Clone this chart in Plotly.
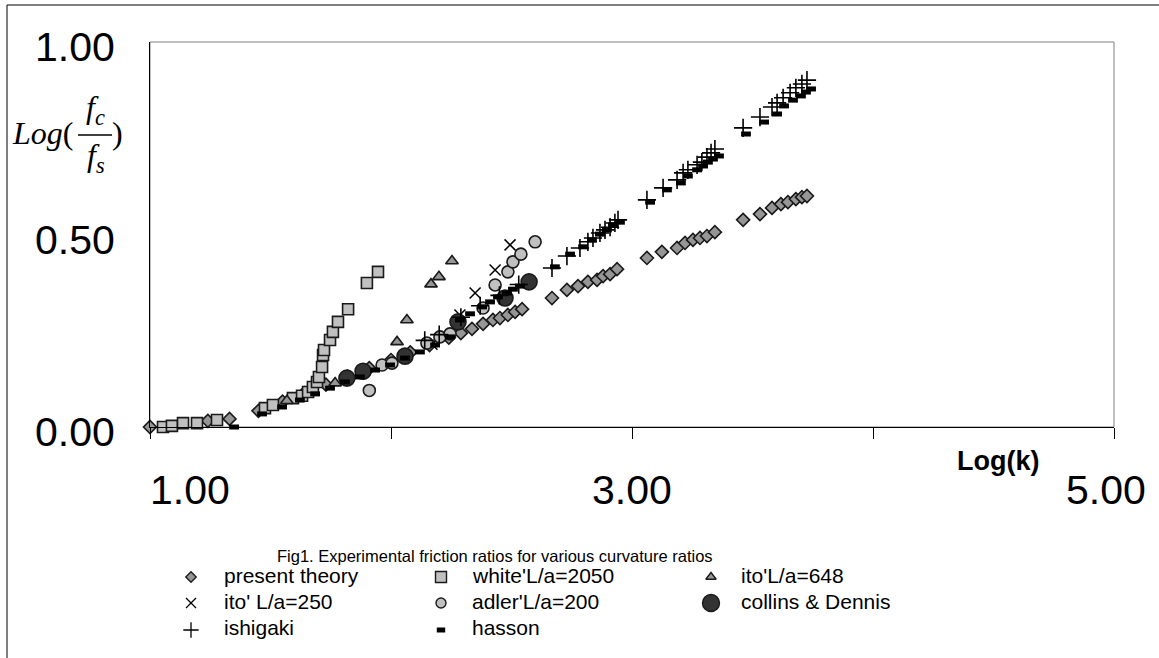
import plotly.graph_objects as go

W, H = 1159, 658

# ---------------- data ----------------
theory_x = [1.00, 1.24, 1.33, 1.45, 1.55, 1.64, 1.73, 1.82, 1.91, 2.00, 2.08, 2.16, 2.24, 2.29,
            2.336, 2.382, 2.423, 2.452, 2.485, 2.515, 2.544, 2.668, 2.730, 2.776, 2.817, 2.855,
            2.880, 2.909, 2.938, 3.062, 3.124, 3.187, 3.220, 3.253, 3.282, 3.311, 3.344, 3.461,
            3.531, 3.581, 3.618, 3.647, 3.680, 3.705, 3.726]
theory_y = [0.000, 0.016, 0.021, 0.042, 0.066, 0.088, 0.110, 0.131, 0.153, 0.174, 0.194, 0.213,
            0.232, 0.244, 0.255, 0.268, 0.278, 0.283, 0.291, 0.299, 0.306, 0.335, 0.356, 0.366,
            0.377, 0.382, 0.392, 0.397, 0.410, 0.439, 0.455, 0.465, 0.478, 0.486, 0.491, 0.496,
            0.506, 0.538, 0.553, 0.569, 0.579, 0.584, 0.592, 0.597, 0.600]

white_x = [1.054, 1.091, 1.137, 1.195, 1.278, 1.477, 1.510, 1.593, 1.631, 1.656, 1.676, 1.693,
           1.701, 1.714, 1.718, 1.722, 1.747, 1.759, 1.780, 1.822, 1.900, 1.946]
white_y = [0.000, 0.003, 0.010, 0.010, 0.018, 0.049, 0.057, 0.075, 0.081, 0.091, 0.104, 0.117,
           0.130, 0.156, 0.187, 0.200, 0.226, 0.247, 0.273, 0.306, 0.374, 0.403]

ito648_x = [1.568, 1.768, 2.025, 2.066, 2.166, 2.199, 2.253]
ito648_y = [0.068, 0.114, 0.221, 0.278, 0.371, 0.390, 0.431]

ito250_x = [2.170, 2.286, 2.349, 2.432, 2.494]
ito250_y = [0.215, 0.291, 0.348, 0.408, 0.473]

adler_x = [1.910, 1.963, 2.004, 2.149, 2.203, 2.245, 2.382, 2.432, 2.485, 2.506, 2.539, 2.598]
adler_y = [0.095, 0.161, 0.166, 0.218, 0.234, 0.242, 0.309, 0.369, 0.403, 0.429, 0.449, 0.481]

collins_x = [1.817, 1.884, 2.058, 2.278, 2.473, 2.573]
collins_y = [0.127, 0.145, 0.184, 0.273, 0.335, 0.377]

ishigaki_x = [2.140, 2.200, 2.290, 2.370, 2.450, 2.530, 2.668, 2.730, 2.784, 2.817, 2.838, 2.867,
              2.888, 2.909, 2.929, 2.942, 3.062, 3.129, 3.187, 3.212, 3.232, 3.270, 3.290, 3.311,
              3.328, 3.344, 3.461, 3.531, 3.581, 3.602, 3.627, 3.656, 3.680, 3.705, 3.726]
ishigaki_y = [0.225, 0.240, 0.285, 0.315, 0.342, 0.370, 0.413, 0.444, 0.465, 0.481, 0.491, 0.504,
              0.512, 0.519, 0.530, 0.538, 0.590, 0.621, 0.642, 0.660, 0.668, 0.681, 0.688, 0.701,
              0.712, 0.722, 0.777, 0.805, 0.831, 0.842, 0.855, 0.868, 0.881, 0.891, 0.901]

hasson_x = [1.349, 1.465, 1.548, 1.622, 1.685, 1.747, 1.809, 1.871, 1.934, 1.996, 2.058, 2.120,
            2.183, 2.245, 2.286, 2.328, 2.378, 2.411, 2.444, 2.481, 2.506, 2.535, 2.680, 2.743,
            2.797, 2.834, 2.867, 2.896, 2.921, 2.950, 3.075, 3.145, 3.203, 3.232, 3.270, 3.295,
            3.315, 3.336, 3.361, 3.473, 3.548, 3.602, 3.631, 3.668, 3.701, 3.722, 3.743]
hasson_y = [0.000, 0.034, 0.052, 0.070, 0.086, 0.101, 0.117, 0.130, 0.148, 0.161, 0.179, 0.195,
            0.213, 0.234, 0.278, 0.294, 0.312, 0.325, 0.338, 0.348, 0.358, 0.366, 0.416, 0.449,
            0.468, 0.486, 0.501, 0.512, 0.525, 0.532, 0.584, 0.616, 0.634, 0.652, 0.668, 0.678,
            0.688, 0.696, 0.704, 0.761, 0.792, 0.813, 0.834, 0.849, 0.860, 0.870, 0.878]

series_names = ["present theory", "white'L/a=2050", "ito'L/a=648",
                "ito' L/a=250", "adler'L/a=200", "collins & Dennis",
                "ishigaki", "hasson"]

x_tick_labels = ["1.00", "3.00", "5.00"]
y_tick_labels = ["1.00", "0.50", "0.00"]
title_text = "Fig1. Experimental friction ratios for various curvature ratios"
x_title = "Log(k)"

# ---------------- styles ----------------
OUT = "#1a1a1a"
styles = [
    dict(symbol="diamond", size=10, color="#969696", line=dict(color=OUT, width=1.6)),
    dict(symbol="square", size=11, color="#c0c0c0", line=dict(color=OUT, width=1.6)),
    dict(symbol="triangle-up", size=11, color="#969696", line=dict(color=OUT, width=1.6)),
    dict(symbol="x-thin", size=11, color="black", line=dict(color="black", width=1.5)),
    dict(symbol="circle", size=12, color="#c0c0c0", line=dict(color=OUT, width=1.6)),
    dict(symbol="circle", size=16, color="#333333", line=dict(color=OUT, width=1.6)),
    dict(symbol="cross-thin", size=13, color="black", line=dict(color="black", width=1.6)),
    dict(symbol="line-ew", size=7, color="black", line=dict(color="black", width=5)),
]
legend_styles = [
    dict(symbol="diamond", size=8, color="#969696", line=dict(color=OUT, width=1.4)),
    dict(symbol="square", size=11, color="#c0c0c0", line=dict(color=OUT, width=1.4)),
    dict(symbol="triangle-up", size=9, color="#969696", line=dict(color=OUT, width=1.4)),
    dict(symbol="x-thin", size=10, color="black", line=dict(color="black", width=1.3)),
    dict(symbol="circle", size=10, color="#c0c0c0", line=dict(color=OUT, width=1.4)),
    dict(symbol="circle", size=17, color="#333333", line=dict(color=OUT, width=1.4)),
    dict(symbol="cross-thin", size=11, color="black", line=dict(color="black", width=1.3)),
    dict(symbol="line-ew", size=6, color="black", line=dict(color="black", width=5)),
]

data = [(theory_x, theory_y), (white_x, white_y), (ito648_x, ito648_y), (ito250_x, ito250_y),
        (adler_x, adler_y), (collins_x, collins_y), (ishigaki_x, ishigaki_y), (hasson_x, hasson_y)]

# pixel helpers
def px(x):
    return x / W

def py(y):
    return 1 - y / H

PL, PR, PT, PB = 150, 1114, 42, 427

fig = go.Figure()
for (xs, ys), name, st in zip(data, series_names, styles):
    fig.add_trace(go.Scatter(x=xs, y=ys, mode="markers", name=name, marker=st,
                             cliponaxis=False, showlegend=False, xaxis="x", yaxis="y"))

# custom legend on a pixel-mapped helper axis
leg_cols_marker = [191, 441, 711]
leg_cols_text = [222, 470, 739]
leg_rows_marker = [577, 603, 630]
leg_rows_text = [575, 601, 627]
for i, (name, st) in enumerate(zip(series_names, legend_styles)):
    r, c = divmod(i, 3)
    fig.add_trace(go.Scatter(x=[leg_cols_marker[c]], y=[leg_rows_marker[r]], mode="markers",
                             marker=st, showlegend=False, cliponaxis=False,
                             xaxis="x2", yaxis="y2", hoverinfo="skip"))

annotations = []
for i, name in enumerate(series_names):
    r, c = divmod(i, 3)
    annotations.append(dict(x=px(leg_cols_text[c]), y=py(leg_rows_text[r]), xref="paper", yref="paper",
                            text=name, showarrow=False, xanchor="left", yanchor="middle",
                            font=dict(family="Liberation Sans, Arial", size=21, color="black")))

tick_font = dict(family="Liberation Sans, Arial", size=41, color="black")
for lab, yc in zip(y_tick_labels, [47, 240, 432]):
    annotations.append(dict(x=px(117), y=py(yc), xref="paper", yref="paper", text=lab,
                            showarrow=False, xanchor="right", yanchor="middle", font=tick_font))
for lab, xc in zip(x_tick_labels, [190, 632, 1106]):
    annotations.append(dict(x=px(xc), y=py(490), xref="paper", yref="paper", text=lab,
                            showarrow=False, xanchor="center", yanchor="middle", font=tick_font))

annotations.append(dict(x=px(998), y=py(461), xref="paper", yref="paper", text="<b>" + x_title + "</b>",
                        showarrow=False, xanchor="center", yanchor="middle",
                        font=dict(family="Liberation Sans, Arial", size=27, color="black")))
annotations.append(dict(x=px(495), y=py(556), xref="paper", yref="paper", text=title_text,
                        showarrow=False, xanchor="center", yanchor="middle",
                        font=dict(family="Liberation Sans, Arial", size=16.5, color="black")))

# y-axis title built as a fraction
serif = dict(family="Liberation Serif, Times New Roman", size=32, color="black")
annotations.append(dict(x=px(10), y=py(133), xref="paper", yref="paper", text="<i>Log</i>(",
                        showarrow=False, xanchor="left", yanchor="middle", font=serif))
annotations.append(dict(x=px(96), y=py(110), xref="paper", yref="paper",
                        text="<i>f</i><sub><i>c</i></sub>",
                        showarrow=False, xanchor="center", yanchor="middle", font=serif))
annotations.append(dict(x=px(96), y=py(158), xref="paper", yref="paper",
                        text="<i>f</i><sub><i>s</i></sub>",
                        showarrow=False, xanchor="center", yanchor="middle", font=serif))
annotations.append(dict(x=px(117), y=py(133), xref="paper", yref="paper", text=")",
                        showarrow=False, xanchor="center", yanchor="middle", font=serif))

shapes = [
    # outer chart frame (top and left edges)
    dict(type="line", xref="paper", yref="paper", x0=px(7), y0=py(5), x1=1, y1=py(5),
         line=dict(color="black", width=1), layer="below"),
    dict(type="line", xref="paper", yref="paper", x0=px(7), y0=py(5), x1=px(7), y1=0,
         line=dict(color="black", width=1), layer="below"),
    # plot area border (grey)
    dict(type="rect", xref="paper", yref="paper", x0=px(PL), y0=py(PB), x1=px(PR), y1=py(PT),
         line=dict(color="#808080", width=1), fillcolor="rgba(0,0,0,0)", layer="below"),
    # fraction bar
    dict(type="line", xref="paper", yref="paper", x0=px(78), x1=px(112), y0=py(135), y1=py(135),
         line=dict(color="black", width=1.4)),
]

fig.update_layout(
    width=W, height=H,
    margin=dict(l=0, r=0, t=0, b=0),
    paper_bgcolor="white", plot_bgcolor="rgba(0,0,0,0)",
    showlegend=False,
    xaxis=dict(domain=[px(PL), px(PR)], range=[1, 5], tickvals=[1, 2, 3, 4, 5],
               showticklabels=False, ticks="outside", ticklen=11, tickcolor="black",
               showline=True, linecolor="black", linewidth=1, showgrid=False,
               zeroline=False, anchor="y"),
    yaxis=dict(domain=[py(PB), py(PT)], range=[0, 1], showticklabels=False, ticks="",
               showline=True, linecolor="black", linewidth=1, showgrid=False,
               zeroline=False, anchor="x"),
    xaxis2=dict(domain=[0, 1], range=[0, W], visible=False, anchor="y2", fixedrange=True),
    yaxis2=dict(domain=[0, py(540)], range=[H, 540], visible=False, anchor="x2", fixedrange=True),
    annotations=annotations,
    shapes=shapes,
    hovermode=False,
)

fig.write_html("out.html", config={"displayModeBar": False},
               post_script="document.body.style.margin='0';document.body.style.overflow='hidden';")
